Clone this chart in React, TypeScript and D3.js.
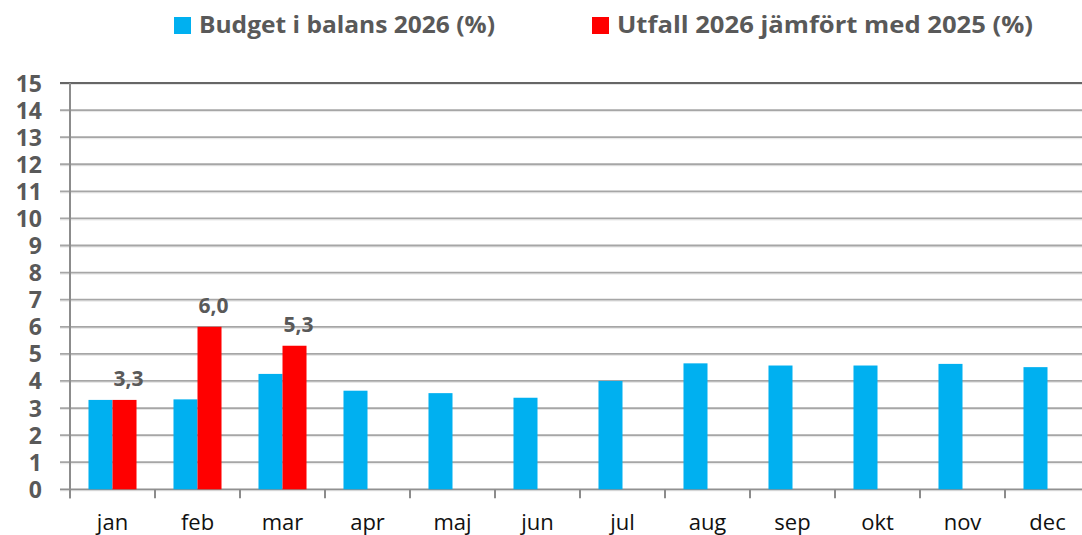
import React from 'react';
import * as d3 from 'd3';

const months = ['jan', 'feb', 'mar', 'apr', 'maj', 'jun', 'jul', 'aug', 'sep', 'okt', 'nov', 'dec'];
const budget = [3.3, 3.32, 4.26, 3.64, 3.55, 3.38, 4.0, 4.65, 4.57, 4.57, 4.63, 4.51];
const utfall = [3.3, 6.0, 5.3, null, null, null, null, null, null, null, null, null];
const utfallLabels = ['3,3', '6,0', '5,3'];
const yTicks = d3.range(0, 16);
const seriesNames = ['Budget i balans 2026 (%)', 'Utfall 2026 jämfört med 2025 (%)'];
const seriesColors = ['#00b0f0', '#ff0000'];

const W = 1082;
const H = 535;
const FONT = '"Open Sans", "DejaVu Sans", sans-serif';

export default function App() {
  // plot area runs a little past the right edge of the picture
  const x = d3.scaleBand<string>().domain(months).range([70, 1090]).paddingInner(0.435).paddingOuter(0.2175);
  const inner = d3.scaleBand<string>().domain(['budget', 'utfall']).range([0, x.bandwidth()]);
  const y = d3.scaleLinear().domain([0, 15]).range([489.3, 83]);
  const step = x.step();

  return (
    <div style={{ position: 'absolute', left: 0, top: 0 }}>
      <svg width={W} height={H} style={{ display: 'block', background: '#fff' }}>
        {/* legend */}
        <g fontFamily={FONT} fontWeight="bold" fontSize={24} fill="#595959">
          <rect x={174} y={17} width={17} height={17} fill={seriesColors[0]} />
          <text x={199} y={33} textLength={296} lengthAdjust="spacingAndGlyphs">{seriesNames[0]}</text>
          <rect x={592} y={17} width={17} height={17} fill={seriesColors[1]} />
          <text x={617} y={33} textLength={416} lengthAdjust="spacingAndGlyphs">{seriesNames[1]}</text>
        </g>

        {/* grid */}
        {yTicks.map(t => (
          <g key={t}>
            <line x1={60} x2={W} y1={y(t) + 1.5} y2={y(t) + 1.5} stroke="#e6e6e6" strokeWidth={1} />
            <line x1={60} x2={W} y1={y(t)} y2={y(t)}
              stroke={t === 15 ? '#666666' : t === 0 ? '#909090' : '#a6a6a6'} strokeWidth={t === 15 ? 2.2 : 1.8} />
            <text x={42} y={y(t) + 8.5} textAnchor="end" fontFamily={FONT} fontWeight="bold"
              fontSize={23} fill="#595959">{t}</text>
          </g>
        ))}

        {/* axes */}
        <line x1={70} x2={70} y1={y(15)} y2={y(0) + 9} stroke="#8c8c8c" strokeWidth={2} />
        {months.map((m, i) => (
          <line key={m} x1={70 + step * i} x2={70 + step * i} y1={y(0)} y2={y(0) + 9} stroke="#8c8c8c" strokeWidth={2} />
        ))}

        {/* bars */}
        {months.map((m, i) => (
          <g key={m} transform={`translate(${x(m)},0)`}>
            <rect x={inner('budget')} width={inner.bandwidth()} y={y(budget[i])} height={y(0) - y(budget[i])}
              fill={seriesColors[0]} />
            {utfall[i] != null && (
              <>
                <rect x={inner('utfall')} width={inner.bandwidth()} y={y(utfall[i] as number)}
                  height={y(0) - y(utfall[i] as number)} fill={seriesColors[1]} />
                <text x={(inner('utfall') as number) + inner.bandwidth() / 2 + 4} y={y(utfall[i] as number) - 14}
                  textAnchor="middle" fontFamily={FONT} fontWeight="bold" fontSize={21} fill="#595959">
                  {utfallLabels[i]}
                </text>
              </>
            )}
          </g>
        ))}

        {/* x labels */}
        {months.map(m => (
          <text key={m} x={(x(m) as number) + x.bandwidth() / 2} y={530} textAnchor="middle"
            fontFamily={FONT} fontSize={22} fill="#111">{m}</text>
        ))}
      </svg>
    </div>
  );
}
